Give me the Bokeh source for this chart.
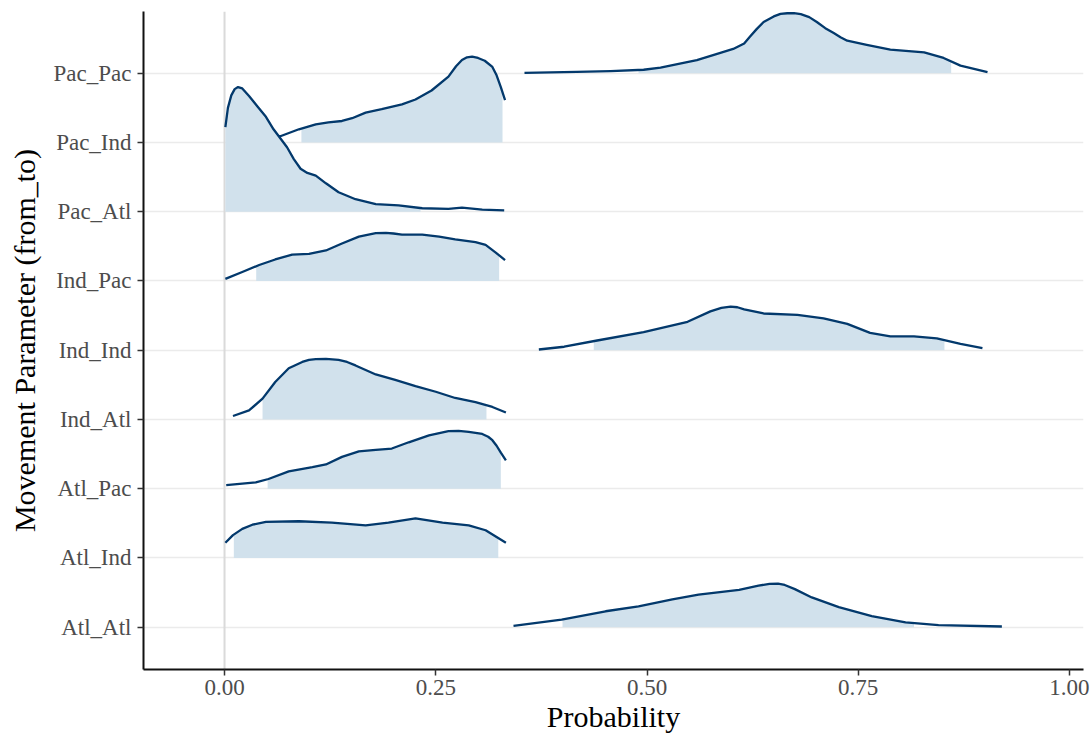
from bokeh.plotting import figure
from bokeh.models import Range1d, FixedTicker, Span
from bokeh.embed import file_html
from bokeh.resources import INLINE
import numpy as np

# Movement parameters, bottom row first
params = ["Atl_Atl", "Atl_Ind", "Atl_Pac", "Ind_Atl", "Ind_Ind",
          "Ind_Pac", "Pac_Atl", "Pac_Ind", "Pac_Pac"]

# Posterior density ridges: probability values and ridge heights (row units)
pac_pac_x = [0.355, 0.417, 0.457, 0.496, 0.516, 0.536, 0.559, 0.583, 0.602, 0.615,
             0.622, 0.630, 0.638, 0.650, 0.658, 0.666, 0.674, 0.682, 0.692, 0.701,
             0.711, 0.721, 0.729, 0.737, 0.760, 0.788, 0.828, 0.851, 0.871, 0.903]
pac_pac_d = [0.005, 0.02, 0.03, 0.05, 0.08, 0.13, 0.19, 0.28, 0.35, 0.43,
             0.53, 0.64, 0.74, 0.82, 0.857, 0.866, 0.866, 0.852, 0.81, 0.74,
             0.65, 0.58, 0.52, 0.47, 0.41, 0.34, 0.30, 0.22, 0.11, 0.015]

pac_ind_x = [0.030, 0.066, 0.088, 0.108, 0.123, 0.139, 0.151, 0.167, 0.186, 0.210,
             0.226, 0.245, 0.265, 0.274, 0.281, 0.287, 0.293, 0.300, 0.308, 0.317,
             0.322, 0.327, 0.332]
pac_ind_d = [0.06, 0.09, 0.19, 0.26, 0.29, 0.31, 0.35, 0.43, 0.48, 0.55,
             0.62, 0.75, 0.95, 1.10, 1.19, 1.23, 1.24, 1.22, 1.18, 1.09,
             0.97, 0.80, 0.61]

pac_atl_x = [0.001, 0.004, 0.008, 0.012, 0.016, 0.021, 0.029, 0.039, 0.049, 0.058,
             0.066, 0.074, 0.082, 0.090, 0.098, 0.108, 0.120, 0.135, 0.155, 0.179,
             0.206, 0.234, 0.265, 0.281, 0.305, 0.331]
pac_atl_d = [1.22, 1.50, 1.68, 1.77, 1.80, 1.78, 1.67, 1.52, 1.37, 1.19,
             1.06, 0.93, 0.76, 0.62, 0.56, 0.52, 0.41, 0.28, 0.18, 0.11,
             0.09, 0.05, 0.04, 0.06, 0.03, 0.02]

ind_pac_x = [0.001, 0.021, 0.041, 0.060, 0.080, 0.100, 0.120, 0.139, 0.159, 0.179,
             0.191, 0.200, 0.210, 0.234, 0.254, 0.273, 0.297, 0.309, 0.321, 0.332]
ind_pac_d = [0.03, 0.13, 0.23, 0.31, 0.38, 0.39, 0.44, 0.54, 0.64, 0.69,
             0.695, 0.685, 0.67, 0.67, 0.64, 0.60, 0.56, 0.52, 0.41, 0.30]

ind_ind_x = [0.372, 0.402, 0.441, 0.496, 0.548, 0.575, 0.588, 0.599, 0.607, 0.615,
             0.638, 0.678, 0.709, 0.737, 0.764, 0.788, 0.816, 0.843, 0.871, 0.897]
ind_ind_d = [0.01, 0.05, 0.14, 0.26, 0.41, 0.56, 0.61, 0.63, 0.62, 0.59,
             0.53, 0.51, 0.46, 0.38, 0.25, 0.20, 0.20, 0.17, 0.09, 0.03]

ind_atl_x = [0.010, 0.029, 0.045, 0.060, 0.076, 0.092, 0.100, 0.108, 0.120, 0.135,
             0.145, 0.155, 0.179, 0.202, 0.226, 0.250, 0.273, 0.297, 0.317, 0.333]
ind_atl_d = [0.05, 0.13, 0.30, 0.54, 0.74, 0.83, 0.86, 0.87, 0.875, 0.86,
             0.83, 0.78, 0.65, 0.57, 0.48, 0.40, 0.31, 0.25, 0.18, 0.10]

atl_pac_x = [0.002, 0.037, 0.052, 0.076, 0.104, 0.120, 0.139, 0.159, 0.179, 0.198,
             0.218, 0.242, 0.265, 0.277, 0.289, 0.305, 0.312, 0.317, 0.322, 0.327,
             0.333]
atl_pac_d = [0.05, 0.09, 0.14, 0.25, 0.31, 0.35, 0.46, 0.54, 0.56, 0.58,
             0.67, 0.77, 0.83, 0.835, 0.82, 0.79, 0.75, 0.70, 0.62, 0.52,
             0.41]

atl_ind_x = [0.001, 0.010, 0.021, 0.033, 0.049, 0.088, 0.127, 0.167, 0.194, 0.226,
             0.258, 0.289, 0.309, 0.333]
atl_ind_d = [0.22, 0.33, 0.42, 0.48, 0.52, 0.53, 0.51, 0.47, 0.51, 0.57,
             0.51, 0.47, 0.40, 0.22]

atl_atl_x = [0.342, 0.399, 0.451, 0.490, 0.530, 0.561, 0.609, 0.632, 0.645, 0.655,
             0.663, 0.675, 0.695, 0.727, 0.766, 0.806, 0.845, 0.920]
atl_atl_d = [0.02, 0.11, 0.23, 0.30, 0.40, 0.47, 0.54, 0.60, 0.625, 0.63,
             0.61, 0.55, 0.43, 0.29, 0.16, 0.07, 0.03, 0.01]

# Credible interval bounds (shaded region) per parameter
interval_lo = [0.400, 0.011, 0.051, 0.045, 0.437, 0.0375, 0.001, 0.091, 0.490]
interval_hi = [0.816, 0.324, 0.327, 0.310, 0.852, 0.325, 0.232, 0.329, 0.860]

curves = [(atl_atl_x, atl_atl_d), (atl_ind_x, atl_ind_d), (atl_pac_x, atl_pac_d),
          (ind_atl_x, ind_atl_d), (ind_ind_x, ind_ind_d), (ind_pac_x, ind_pac_d),
          (pac_atl_x, pac_atl_d), (pac_ind_x, pac_ind_d), (pac_pac_x, pac_pac_d)]

x_ticks = [0.0, 0.25, 0.5, 0.75, 1.0]
x_tick_labels = ["0.00", "0.25", "0.50", "0.75", "1.00"]

FILL = "#d1e1ec"
LINE = "#03396c"
SERIF = "Liberation Serif"

p = figure(width=1092, height=740, output_backend="svg", toolbar_location=None,
           x_range=Range1d(-0.0959, 1.0166), y_range=Range1d(0.389, 9.891),
           min_border_left=143, min_border_right=9, min_border_top=11,
           min_border_bottom=71)
p.outline_line_color = None
p.background_fill_color = "white"
p.border_fill_color = "white"

# zero reference line
p.add_layout(Span(location=0, dimension="height", line_color="#dadada",
                  line_width=2, level="underlay"))

# ridges from top row down so lower fills sit over upper outlines
for i in reversed(range(len(params))):
    xs, ds = curves[i]
    base = i + 1
    xs = np.array(xs)
    ds = np.array(ds)
    lo, hi = interval_lo[i], interval_hi[i]
    inner = xs[(xs > lo) & (xs < hi)]
    fx = np.concatenate([[lo], inner, [hi]])
    fy = np.interp(fx, xs, ds)
    p.varea(x=fx, y1=np.full(len(fx), base), y2=base + fy, fill_color=FILL)
    p.line(x=xs, y=base + ds, line_color=LINE, line_width=2.3, line_join="round")

# axes
p.xaxis.ticker = FixedTicker(ticks=x_ticks)
p.xaxis.major_label_overrides = {t: l for t, l in zip(x_ticks, x_tick_labels)}
p.yaxis.ticker = FixedTicker(ticks=list(range(1, len(params) + 1)))
p.yaxis.major_label_overrides = {i + 1: n for i, n in enumerate(params)}

for ax in (p.xaxis[0], p.yaxis[0]):
    ax.axis_line_color = "#111111"
    ax.axis_line_width = 2
    ax.major_tick_line_color = "#333333"
    ax.major_tick_line_width = 1.5
    ax.major_tick_out = 6
    ax.major_tick_in = 0
    ax.minor_tick_line_color = None
    ax.major_label_text_font = SERIF
    ax.major_label_text_font_size = "23px"
    ax.major_label_text_color = "#4d4d4d"
    ax.axis_label_text_font = SERIF
    ax.axis_label_text_font_size = "30px"
    ax.axis_label_text_font_style = "normal"
    ax.axis_label_text_color = "#000000"

p.xaxis.axis_label = "Probability"
p.xaxis.major_label_standoff = 4
p.xaxis.axis_label_standoff = 2
p.yaxis.axis_label = "Movement Parameter (from_to)"
p.yaxis.major_label_standoff = 6
p.yaxis.axis_label_standoff = 10

p.xgrid.grid_line_color = None
p.ygrid.grid_line_color = "#ebebeb"
p.ygrid.grid_line_width = 1.5
p.ygrid.ticker = FixedTicker(ticks=list(range(1, len(params) + 1)))

open("out.html", "w").write(file_html(p, INLINE))
